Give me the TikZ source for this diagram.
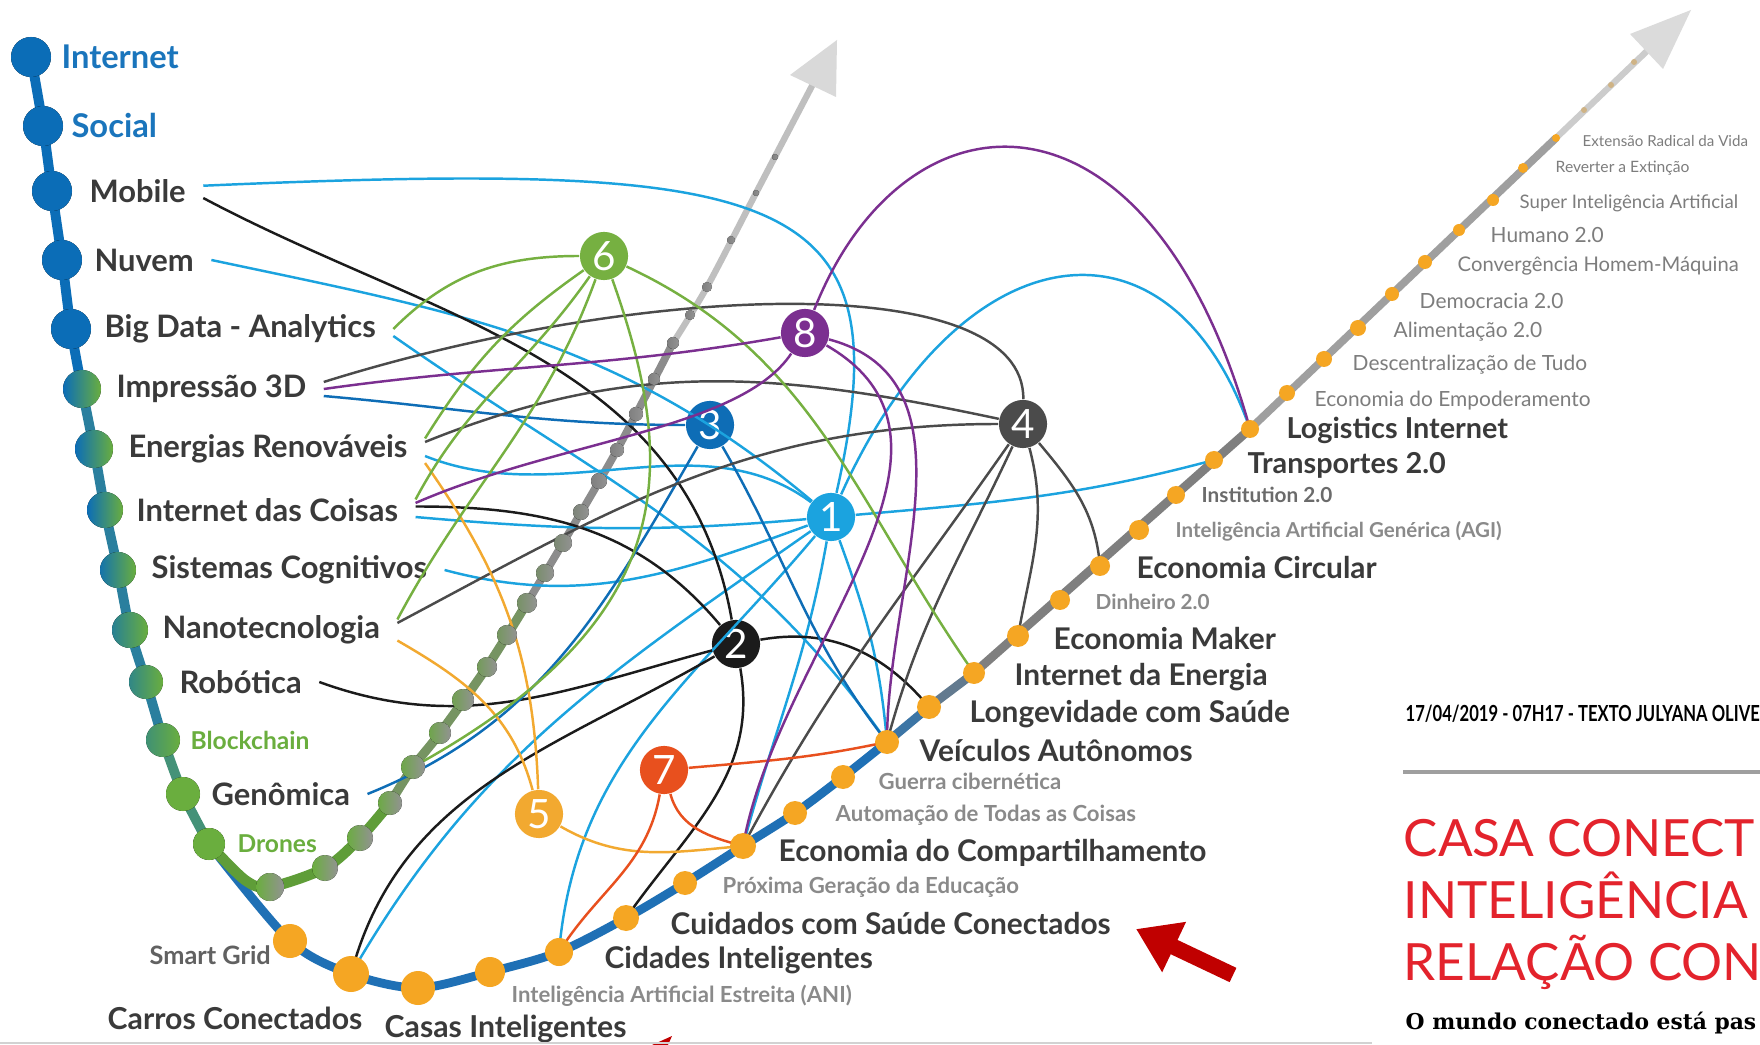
\documentclass[tikz,border=0pt]{standalone}
\usepackage{fontspec}
\setmainfont{Lato}
\newfontfamily\slabfont{DejaVu Serif}
\usetikzlibrary{arrows.meta}

\definecolor{chainblue}{HTML}{0B6DB7}
\definecolor{chainteal}{HTML}{2A7F9E}
\definecolor{leafgreen}{HTML}{6AAE3E}
\definecolor{lineblue}{HTML}{1F70B5}
\definecolor{dotorange}{HTML}{F5A623}
\definecolor{trackgray}{HTML}{7F7F7F}
\definecolor{lnkA}{HTML}{1BA3DF}
\definecolor{lnkB}{HTML}{1B1B1B}
\definecolor{lnkC}{HTML}{0E6DB6}
\definecolor{lnkD}{HTML}{4B4B4B}
\definecolor{lnkE}{HTML}{F2A930}
\definecolor{lnkF}{HTML}{76B041}
\definecolor{lnkG}{HTML}{E8501E}
\definecolor{lnkH}{HTML}{7B2F90}
\definecolor{txtdark}{HTML}{3A3A3A}
\definecolor{txtgray}{HTML}{8A8A8A}
\definecolor{futuregray}{HTML}{7D7D7D}
\definecolor{webblue}{HTML}{1A75BC}
\definecolor{titlered}{HTML}{E3232C}
\definecolor{handred}{HTML}{C00000}

\tikzset{
  hub/.style={circle, fill=#1, minimum size=13.7pt, inner sep=0pt,
    text=white, font=\fontsize{11.5}{12}\selectfont},
  conn/.style={draw=#1, line width=0.7pt},
  lblTech/.style={anchor=west, inner sep=0pt, outer xsep=5pt, text=txtdark,
    font=\bfseries\fontsize{8.8}{10}\selectfont},
  lblWeb/.style={lblTech, text=webblue, font=\bfseries\fontsize{9.3}{10}\selectfont},
  lblSmall/.style={lblTech, text=leafgreen, font=\bfseries\fontsize{7}{8}\selectfont},
  lblTrend/.style={anchor=west, inner sep=0pt, text=txtdark,
    font=\bfseries\fontsize{8.5}{9}\selectfont},
  lblMinor/.style={lblTrend, text=txtgray, font=\bfseries\fontsize{6.3}{7}\selectfont},
  lblFuture/.style={lblTrend, text=futuregray, font=\fontsize{5.95}{7}\selectfont},
  headline/.style={anchor=base west, inner sep=0pt, text=titlered,
    font=\fontsize{14.6}{16}\selectfont},
}

\begin{document}
\begin{tikzpicture}[x=0.1mm, y=0.1mm]
  \fill[white] (0,0) rectangle (1760,-1045);
  \useasboundingbox (0,0) rectangle (1760,-1045);
  \clip (0,0) rectangle (1760,-1045);

  % dots on the main track
  \coordinate (cDron) at (209,-844);
  \coordinate (dSG) at (290,-941);   \coordinate (dCC) at (351,-974);
  \coordinate (dCI) at (418,-988);   \coordinate (dANI) at (490,-972);
  \coordinate (dCid) at (559,-952);  \coordinate (dCui) at (626,-918);
  \coordinate (dPG) at (685,-883);   \coordinate (dEC) at (743,-846);
  \coordinate (dAT) at (795,-813);   \coordinate (dGC) at (843,-777);
  \coordinate (dVA) at (887,-742);   \coordinate (dLS) at (929,-707);
  \coordinate (dIE) at (974,-673);   \coordinate (dEM) at (1018,-636);
  \coordinate (dD2) at (1060,-600);  \coordinate (dECi) at (1100,-566);
  \coordinate (dAGI) at (1139,-530); \coordinate (dIn2) at (1176,-495);
  \coordinate (dT2) at (1214,-460);  \coordinate (dLI) at (1250,-429);
  \coordinate (dEE) at (1287,-393);  \coordinate (dDT) at (1324,-359);
  \coordinate (dA2) at (1358,-328);  \coordinate (dD20) at (1392,-294);
  \coordinate (dCHM) at (1425,-262); \coordinate (dH2) at (1459,-230);
  \coordinate (dSI) at (1493,-200);  \coordinate (dRE) at (1523,-168);
  \coordinate (dER) at (1556,-138);
  \coordinate (gDot) at (413,-767);

  % left chain
  \draw[chainblue, line width=2.8pt] plot[smooth] coordinates
    {(31,-57) (43,-126) (52,-191) (62,-260) (71,-329) (82,-389)};
  \draw[chainteal, line width=2.8pt] plot[smooth] coordinates
    {(82,-389) (94,-449) (105,-510) (118,-570) (130,-630) (146,-682) (163,-740)};
  \draw[chainteal!60!leafgreen, line width=2.8pt] plot[smooth] coordinates
    {(163,-740) (183,-794) (209,-844)};

  % main track
  \draw[lineblue, line width=2.5pt] plot[smooth, tension=0.5] coordinates
    {(cDron) (dSG) (dCC) (dCI) (dANI) (dCid) (dCui) (dPG) (dEC) (dAT) (dGC) (dVA)};
  \draw[lineblue!70!trackgray, line width=2.5pt] (dVA) -- (dLS);
  \draw[lineblue!30!trackgray, line width=2.5pt] (dLS) -- (dIE);
  \draw[trackgray, line width=2.5pt] (dIE) -- (dLI);
  \draw[trackgray!75, line width=2.2pt] (dLI) -- (dER);
  \draw[trackgray!40, line width=1.8pt] (dER) -- (1647,-51);
  \fill[gray!28] (1691,-10) -- (1663,-69) -- (1630,-34) -- cycle;

  % green branch
  \draw[leafgreen!90!black, line width=3pt] plot[smooth] coordinates
    {(209,-844) (245,-880) (270,-887) (325,-868) (360,-838) (390,-803)};
  \draw[leafgreen!45!gray, line width=2.6pt] plot[smooth] coordinates
    {(390,-803) (413,-767) (440,-733) (487,-667) (527,-603)};
  \draw[gray!90, line width=2.2pt] plot[smooth] coordinates
    {(527,-603) (563,-543) (617,-450) (673,-343)};
  \draw[gray!50, line width=1.8pt] plot[smooth] coordinates
    {(673,-343) (707,-287) (756,-193) (813,-84)};
  \fill[gray!30] (837,-40) -- (790,-75) -- (836,-97) -- cycle;

  % hubs
  \node[hub=lnkA] (h1) at (831,-517) {1};
  \node[hub=lnkB] (h2) at (736,-644) {2};
  \node[hub=lnkC] (h3) at (710,-425) {3};
  \node[hub=lnkD] (h4) at (1023,-424) {4};
  \node[hub=lnkE] (h5) at (539,-814) {5};
  \node[hub=lnkF] (h6) at (604,-256) {6};
  \node[hub=lnkG] (h7) at (664,-770) {7};
  \node[hub=lnkH] (h8) at (805,-333) {8};

  % technologies
  \node[lblWeb] (internet) at (44,-57) {Internet};
  \node[lblWeb] (social) at (54,-126) {Social};
  \node[lblTech] (mobile) at (72,-191) {Mobile};
  \node[lblTech] (nuvem) at (77,-260) {Nuvem};
  \node[lblTech] (bigdata) at (87,-329) {Big Data - Analytics};
  \node[lblTech] (impressao) at (99,-389) {Impressão 3D};
  \node[lblTech] (energias) at (111,-449) {Energias Renováveis};
  \node[lblTech] (iot) at (119,-510) {Internet das Coisas};
  \node[lblTech] (sistemas) at (134,-570) {Sistemas Cognitivos};
  \node[lblTech] (nano) at (145,-630) {Nanotecnologia};
  \node[lblTech] (robotica) at (162,-682) {Robótica};
  \node[lblSmall] (blockchain) at (173,-740) {Blockchain};
  \node[lblTech] (genomica) at (194,-794) {Genômica};
  \node[lblSmall] (drones) at (220,-844) {Drones};

  % trends
  \node[lblMinor, text=txtdark!80, font=\bfseries\fontsize{7.2}{8}\selectfont] (smartgrid) at (149,-955) {Smart Grid};
  \node[lblTrend, font=\bfseries\fontsize{8.6}{9}\selectfont] (carros) at (107,-1018) {Carros Conectados};
  \node[lblTrend, font=\bfseries\fontsize{8.6}{9}\selectfont] (casas) at (384,-1029) {Casas Inteligentes};
  \node[lblMinor] (ani) at (511,-996) {Inteligência Artificial Estreita (ANI)};
  \node[lblTrend] (cidades) at (604,-960) {Cidades Inteligentes};
  \node[lblTrend] (cuidados) at (670,-924) {Cuidados com Saúde Conectados};
  \node[lblMinor] (proxima) at (722,-887) {Próxima Geração da Educação};
  \node[lblTrend] (compart) at (778,-853) {Economia do Compartilhamento};
  \node[lblMinor] (automacao) at (835,-815) {Automação de Todas as Coisas};
  \node[lblMinor] (guerra) at (878,-781) {Guerra cibernética};
  \node[lblTrend] (veiculos) at (919,-751) {Veículos Autônomos};
  \node[lblTrend] (longevidade) at (969,-714) {Longevidade com Saúde};
  \node[lblTrend] (ienergia) at (1014,-677) {Internet da Energia};
  \node[lblTrend] (maker) at (1053,-639) {Economia Maker};
  \node[lblMinor, font=\bfseries\fontsize{5.9}{7}\selectfont] (dinheiro) at (1095,-602) {Dinheiro 2.0};
  \node[lblTrend] (circular) at (1136,-568) {Economia Circular};
  \node[lblMinor, font=\bfseries\fontsize{5.85}{7}\selectfont] (agi) at (1175,-531) {Inteligência Artificial Genérica (AGI)};
  \node[lblMinor, text=txtdark!75, font=\bfseries\fontsize{5.9}{7}\selectfont] (institution) at (1201,-495) {Institution 2.0};
  \node[lblTrend, font=\bfseries\fontsize{8.2}{9}\selectfont] (transportes) at (1247,-465) {Transportes 2.0};
  \node[lblTrend, font=\bfseries\fontsize{8.2}{9}\selectfont] (logistics) at (1286,-430) {Logistics Internet};
  \node[lblFuture] (empod) at (1314,-401) {Economia do Empoderamento};
  \node[lblFuture] (descent) at (1352,-365) {Descentralização de Tudo};
  \node[lblFuture] (aliment) at (1393,-332) {Alimentação 2.0};
  \node[lblFuture] (democ) at (1419,-301) {Democracia 2.0};
  \node[lblFuture, font=\fontsize{5.75}{7}\selectfont] (converg) at (1457,-266) {Convergência Homem-Máquina};
  \node[lblFuture] (humano) at (1490,-235) {Humano 2.0};
  \node[lblFuture, font=\fontsize{5.3}{7}\selectfont] (superint) at (1519,-203) {Super Inteligência Artificial};
  \node[lblFuture, font=\fontsize{4.45}{6}\selectfont] (reverter) at (1555,-168) {Reverter a Extinção};
  \node[lblFuture, font=\fontsize{4.3}{6}\selectfont] (extensao) at (1582,-141) {Extensão Radical da Vida};

  % links of hub 1
  \draw[conn=lnkA] ([yshift=1.5pt]mobile.east) .. controls (790,-160) and (905,-190) .. (h1);
  \draw[conn=lnkA] (nuvem.east) to[out=-12, in=140] (h1);
  \draw[conn=lnkA] ([yshift=-2pt]bigdata.east) to[out=-35, in=125] (dVA);
  \draw[conn=lnkA] ([yshift=-2pt]energias.east) .. controls (560,-510) and (700,-420) .. (h1);
  \draw[conn=lnkA] ([yshift=-2pt]iot.east) to[out=-5, in=185] (h1);
  \draw[conn=lnkA] (sistemas.east) to[out=-15, in=200] (h1);
  \draw[conn=lnkA] (h1) to[out=215, in=60] (dCC);
  \draw[conn=lnkA] (h1) to[out=230, in=85] (dCid);
  \draw[conn=lnkA] (h1) to[out=260, in=75] (dEC);
  \draw[conn=lnkA] (h1) to[out=-70, in=95] (dVA);
  \draw[conn=lnkA] (h1) to[out=5, in=195] (dT2);
  \draw[conn=lnkA] (h1) .. controls (960,-230) and (1170,-200) .. (dLI);
  % links of hub 2
  \draw[conn=lnkB] ([yshift=-2pt]mobile.east) to[out=-28, in=100] (h2);
  \draw[conn=lnkB] ([yshift=1pt]iot.east) to[out=0, in=130] (h2);
  \draw[conn=lnkB] (robotica.east) to[out=-20, in=195] (h2);
  \draw[conn=lnkB] (h2) to[out=210, in=75] (dCC);
  \draw[conn=lnkB] (h2) to[out=-80, in=55] (dCui);
  \draw[conn=lnkB] (h2) to[out=10, in=130] (dLS);
  % links of hub 3
  \draw[conn=lnkC] ([yshift=-2pt]impressao.east) to[out=-5, in=180] (h3);
  \draw[conn=lnkC] (h3) to[out=-60, in=128] (dVA);
  \draw[conn=lnkC] (genomica.east) to[out=22, in=240] (h3);
  % links of hub 4
  \draw[conn=lnkD] ([yshift=2pt]impressao.east) .. controls (650,-280) and (1025,-270) .. (h4);
  \draw[conn=lnkD] ([yshift=2pt]energias.east) to[out=22, in=168] (h4);
  \draw[conn=lnkD] ([yshift=2pt]nano.east) to[out=28, in=180] (h4);
  \draw[conn=lnkD] (h4) to[out=235, in=62] (dEC);
  \draw[conn=lnkD] (h4) to[out=245, in=75] (dVA);
  \draw[conn=lnkD] (h4) to[out=-75, in=80] (dEM);
  \draw[conn=lnkD] (h4) to[out=-50, in=95] (dECi);
  % links of hub 5
  \draw[conn=lnkE] ([yshift=-4pt]energias.east) to[out=-55, in=92] (h5);
  \draw[conn=lnkE] ([yshift=-3pt]nano.east) to[out=-30, in=105] (h5);
  \draw[conn=lnkE] (h5) to[out=-30, in=185] (dEC);
  % links of hub 6
  \draw[conn=lnkF] (bigdata.east) to[out=45, in=180] (h6);
  \draw[conn=lnkF] ([yshift=3pt]energias.east) to[out=58, in=215] (h6);
  \draw[conn=lnkF] ([yshift=3pt]iot.east) to[out=62, in=235] (h6);
  \draw[conn=lnkF] ([yshift=3pt]nano.east) to[out=62, in=250] (h6);
  \draw[conn=lnkF] (h6) .. controls (680,-470) and (680,-620) .. (gDot);
  \draw[conn=lnkF] (h6) to[out=-25, in=125] (dIE);
  % links of hub 7
  \draw[conn=lnkG] (h7) to[out=5, in=192] (dVA);
  \draw[conn=lnkG] (h7) to[out=-75, in=165] (dEC);
  \draw[conn=lnkG] (h7) to[out=-100, in=58] (dCid);
  % links of hub 8
  \draw[conn=lnkH] (impressao.east) to[out=8, in=190] (h8);
  \draw[conn=lnkH] ([yshift=2pt]iot.east) .. controls (560,-440) and (740,-430) .. (h8);
  \draw[conn=lnkH] (h8) .. controls (905,-80) and (1150,-70) .. (dLI);
  \draw[conn=lnkH] (h8) to[out=-30, in=80] (dEC);
  \draw[conn=lnkH] (h8) to[out=-15, in=90] (dVA);

  % chain circles
  \foreach \x/\y/\r/\l/\m in {31/57/20/100/100, 43/126/20/100/100, 52/191/20/100/100,
      62/260/20/100/100, 71/329/20/100/100, 82/389/19/100/0, 94/449/19/100/0,
      105/510/18/100/0, 118/570/18/90/0, 130/630/18/70/0, 146/682/17/60/0,
      163/740/17/45/0, 183/794/17/0/0, 209/844/16/0/0}
    \fill[left color=chainblue!\l!leafgreen, right color=chainblue!\m!leafgreen]
      (\x,-\y) circle[radius=\r];

  % branch dots
  \foreach \x/\y/\r/\g in {270/887/14/100, 325/868/13/100, 360/838/13/95,
      390/803/12/90, 413/767/12/85, 440/733/11/80, 463/700/11/70, 487/667/10/60,
      507/635/10/50, 527/603/10/40, 545/573/9/30, 563/543/9/20, 581/512/8/10,
      599/481/8/0, 617/450/7/0, 636/414/7/0, 654/379/6/0, 673/343/6/0,
      690/315/5/0, 707/287/5/0, 731/240/4/0, 756/193/3/0, 775/157/3/0}
    \fill[left color=leafgreen!\g!gray, right color=gray!85] (\x,-\y) circle[radius=\r];

  % track dots
  \foreach \d/\r in {dSG/17, dCC/18, dCI/17, dANI/15, dCid/14, dCui/13, dPG/12,
      dEC/13, dAT/12, dGC/12, dVA/12, dLS/12, dIE/11, dEM/11, dD2/10, dECi/10,
      dAGI/10, dIn2/9, dT2/9, dLI/9, dEE/8, dDT/8, dA2/8, dD20/7, dCHM/7, dH2/6,
      dSI/6, dRE/5, dER/4}
    \fill[dotorange] (\d) circle[radius=\r];
  \foreach \x/\y in {1584/110, 1611/85, 1634/62}
    \fill[dotorange!50!gray!70] (\x,-\y) circle[radius=3];

  % article
  \node[anchor=base west, inner sep=0pt, font=\bfseries\fontsize{6.3}{7}\selectfont] (stamp)
    at (1405,-722) {\scalebox{0.75}[1]{17/04/2019 - 07H17 - TEXTO JULYANA OLIVE}};
  \draw[gray!75, line width=1pt] (1403,-772) -- (1760,-772);
  \node[headline] (title1) at (1403,-856) {CASA CONECT};
  \node[headline] (title2) at (1403,-918) {INTELIGÊNCIA};
  \node[headline] (title3) at (1403,-980) {RELAÇÃO CON};
  \node[anchor=base west, inner sep=0pt, font=\slabfont\bfseries\fontsize{6.2}{7}\selectfont] (lede)
    at (1405,-1029) {O mundo conectado está pas};

  % pointer
  \coordinate (hand0) at (1233,-975);
  \coordinate (hand1) at (1136,-929);
  \draw[handred, line width=4.5pt, -{Triangle[length=12pt, width=15pt]}] (hand0) -- (hand1);
  \fill[handred] (652,-1045) -- (672,-1036) -- (668,-1045) -- cycle;
  \draw[gray!35, line width=0.8pt] (0,-1043) -- (1372,-1043);
\end{tikzpicture}
\end{document}
